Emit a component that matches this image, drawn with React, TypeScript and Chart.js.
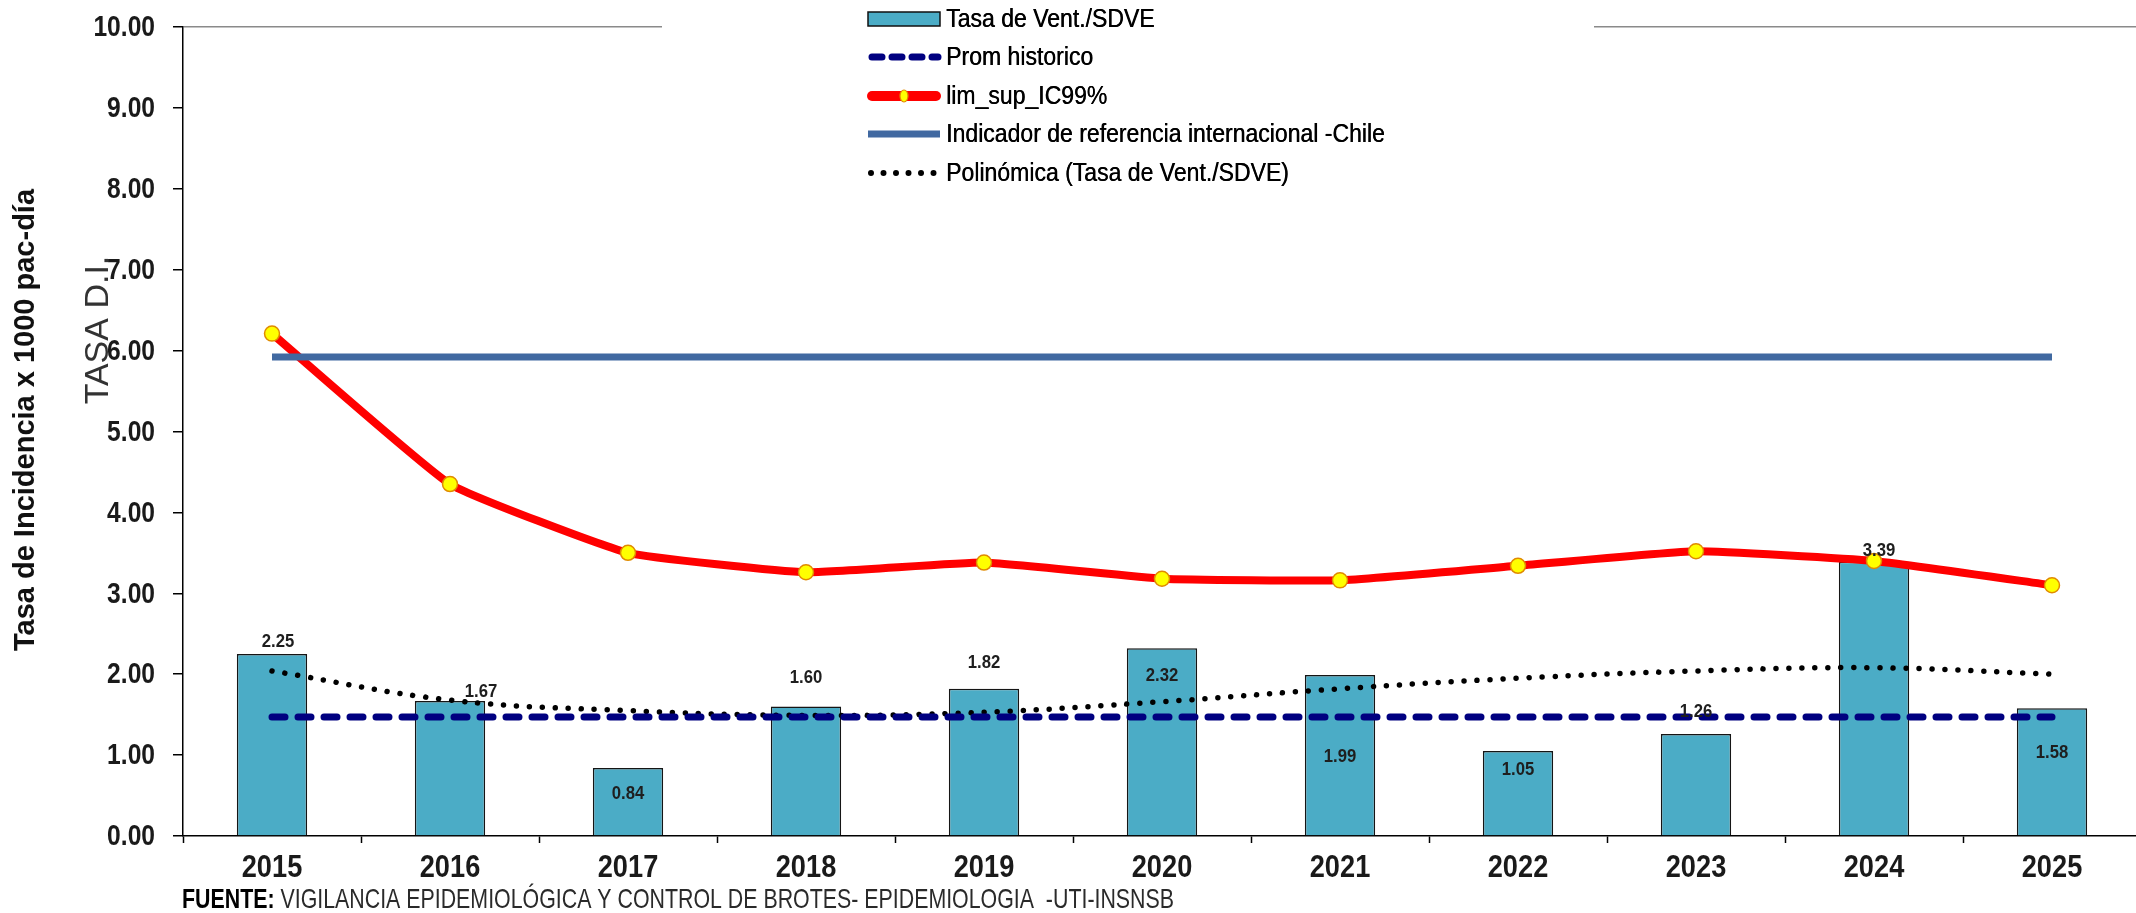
import { useEffect, useRef } from "react";
import { Chart, registerables } from "chart.js";

Chart.register(...registerables);

// ---------- data ----------
const YEARS = ["2015", "2016", "2017", "2018", "2019", "2020", "2021", "2022", "2023", "2024", "2025"];
const TASA_VENT = [2.25, 1.67, 0.84, 1.6, 1.82, 2.32, 1.99, 1.05, 1.26, 3.39, 1.58];
const PROM_HISTORICO = [1.47, 1.47, 1.47, 1.47, 1.47, 1.47, 1.47, 1.47, 1.47, 1.47, 1.47];
const LIM_SUP_IC99 = [6.21, 4.35, 3.5, 3.26, 3.38, 3.18, 3.16, 3.34, 3.52, 3.4, 3.1];
const REF_CHILE = [5.92, 5.92, 5.92, 5.92, 5.92, 5.92, 5.92, 5.92, 5.92, 5.92, 5.92];
const POLINOMICA = [2.04, 1.68, 1.55, 1.49, 1.53, 1.66, 1.82, 1.95, 2.04, 2.08, 2.0];
const Y_MIN = 0;
const Y_MAX = 10;
const Y_STEP = 1;

const SERIES_LABELS = [
  "Tasa de Vent./SDVE",
  "Prom historico",
  "lim_sup_IC99%",
  "Indicador de referencia internacional -Chile",
  "Polinómica (Tasa de Vent./SDVE)",
];
const Y_TITLE = "Tasa de Incidencia x 1000 pac-día";
const Y_SUBTITLE = "TASA D.I.";
const FOOTER_BOLD = "FUENTE:";
const FOOTER_TEXT = " VIGILANCIA EPIDEMIOLÓGICA Y CONTROL DE BROTES- EPIDEMIOLOGIA  -UTI-INSNSB";

// label placement (pixel offsets from bar top), style only
const BAR_LABEL_OFFSETS: [number, number][] = [
  [6, -12], [31, -9], [0, 26], [0, -29], [0, -26], [0, 27], [0, 82], [0, 19], [0, -22], [5, -11], [0, 45],
];

const FONT = "'Liberation Sans', Arial, sans-serif";

const BAR_FILL = "#4BACC6";
const NAVY = "#000080";
const RED = "#FF0000";
const BLUE = "#4169A1";

// draw condensed text (emulating a narrow font)
function narrowText(ctx: any, text: string, x: number, y: number, align: string, sx: number) {
  ctx.save();
  ctx.translate(x, y);
  ctx.scale(sx, 1);
  ctx.textAlign = align;
  ctx.fillText(text, 0, 0);
  ctx.restore();
}

const overlayPlugin = {
  id: "overlay",
  afterDatasetsDraw(chart: any) {
    const ctx = chart.ctx;
    const meta = chart.getDatasetMeta(0);
    ctx.save();
    ctx.font = `bold 19px ${FONT}`;
    ctx.fillStyle = "#1e1e1e";
    ctx.textBaseline = "middle";
    meta.data.forEach((el: any, i: number) => {
      const [dx, dy] = BAR_LABEL_OFFSETS[i] || [0, -12];
      narrowText(ctx, TASA_VENT[i].toFixed(2), el.x + dx, el.y + dy, "center", 0.88);
    });
    ctx.restore();
  },
  afterDraw(chart: any) {
    const ctx = chart.ctx;
    ctx.save();

    // axis tick labels (positions from the library's scales)
    const ys = chart.scales.y;
    ctx.font = `bold 30px ${FONT}`;
    ctx.fillStyle = "#1a1a1a";
    ctx.textBaseline = "middle";
    ys.ticks.forEach((t: any) => {
      narrowText(ctx, Number(t.value).toFixed(2), ys.left + ys.width - 28, ys.getPixelForValue(t.value) + 1, "right", 0.82);
    });
    const xs = chart.scales.x;
    ctx.font = `bold 32px ${FONT}`;
    chart.data.labels.forEach((lab: string, i: number) => {
      narrowText(ctx, lab, xs.getPixelForValue(i), xs.top + 32, "center", 0.85);
    });

    // legend box
    ctx.fillStyle = "#ffffff";
    ctx.fillRect(662, 10, 932, 190);
    const rows = [19, 57, 96, 134, 173];
    const x0 = 868;
    const x1 = 940;
    // 1 bar
    ctx.fillStyle = BAR_FILL;
    ctx.fillRect(x0, rows[0] - 7, x1 - x0, 14);
    ctx.strokeStyle = "#111";
    ctx.lineWidth = 1.5;
    ctx.strokeRect(x0, rows[0] - 7, x1 - x0, 14);
    // 2 dashed navy
    ctx.beginPath();
    ctx.strokeStyle = NAVY;
    ctx.lineWidth = 7;
    ctx.lineCap = "round";
    ctx.setLineDash([10, 10]);
    ctx.moveTo(x0 + 4, rows[1]);
    ctx.lineTo(x1 - 2, rows[1]);
    ctx.stroke();
    // 3 red with marker
    ctx.setLineDash([]);
    ctx.beginPath();
    ctx.strokeStyle = RED;
    ctx.lineWidth = 10;
    ctx.lineCap = "round";
    ctx.moveTo(x0 + 4, rows[2]);
    ctx.lineTo(x1 - 4, rows[2]);
    ctx.stroke();
    ctx.beginPath();
    ctx.fillStyle = "#FFFF00";
    ctx.strokeStyle = "#E08A00";
    ctx.lineWidth = 1.2;
    ctx.ellipse((x0 + x1) / 2, rows[2], 4, 6, 0, 0, Math.PI * 2);
    ctx.fill();
    ctx.stroke();
    // 4 blue
    ctx.beginPath();
    ctx.strokeStyle = BLUE;
    ctx.lineWidth = 7;
    ctx.lineCap = "butt";
    ctx.moveTo(x0, rows[3]);
    ctx.lineTo(x1, rows[3]);
    ctx.stroke();
    // 5 dotted
    ctx.beginPath();
    ctx.strokeStyle = "#000";
    ctx.lineWidth = 6;
    ctx.lineCap = "round";
    ctx.setLineDash([0.001, 12.5]);
    ctx.moveTo(x0 + 3, rows[4]);
    ctx.lineTo(x1, rows[4]);
    ctx.stroke();
    ctx.setLineDash([]);
    // legend texts
    ctx.font = `26px ${FONT}`;
    ctx.fillStyle = "#000";
    ctx.textBaseline = "middle";
    chart.data.datasets.forEach((ds: any, i: number) => {
      narrowText(ctx, ds.label, 946, rows[i] + 1, "left", 0.885);
      narrowText(ctx, ds.label, 946.4, rows[i] + 1, "left", 0.885);
    });

    // y axis title
    ctx.save();
    ctx.translate(26, 420);
    ctx.rotate(-Math.PI / 2);
    ctx.font = `bold 29px ${FONT}`;
    ctx.fillStyle = "#111";
    ctx.textAlign = "center";
    ctx.textBaseline = "middle";
    ctx.fillText(Y_TITLE, 0, 0);
    ctx.restore();

    // secondary title
    ctx.save();
    ctx.translate(99, 330);
    ctx.rotate(-Math.PI / 2);
    ctx.font = `34px ${FONT}`;
    ctx.fillStyle = "#333";
    ctx.textAlign = "center";
    ctx.textBaseline = "middle";
    ctx.fillText(Y_SUBTITLE, 0, 0);
    ctx.restore();

    // footer
    ctx.save();
    const targetW = 992;
    ctx.font = `bold 28px ${FONT}`;
    const wb = ctx.measureText(FOOTER_BOLD).width;
    ctx.font = `28px ${FONT}`;
    const wt = ctx.measureText(FOOTER_TEXT).width;
    const sx = targetW / (wb + wt);
    ctx.translate(182, 900);
    ctx.scale(sx, 1);
    ctx.textAlign = "left";
    ctx.textBaseline = "middle";
    ctx.font = `bold 28px ${FONT}`;
    ctx.fillStyle = "#000";
    ctx.fillText(FOOTER_BOLD, 0, 0);
    ctx.font = `28px ${FONT}`;
    ctx.fillStyle = "#2a2a2a";
    ctx.fillText(FOOTER_TEXT, wb, 0);
    ctx.restore();

    ctx.restore();
  },
};

export default function App() {
  const ref = useRef<HTMLCanvasElement | null>(null);

  useEffect(() => {
    if (!ref.current) return;
    const chart = new Chart(ref.current, {
      type: "bar",
      data: {
        labels: YEARS,
        datasets: [
          {
            type: "bar",
            label: SERIES_LABELS[0],
            data: TASA_VENT,
            backgroundColor: BAR_FILL,
            borderColor: "#151515",
            borderWidth: 1.5,
            barPercentage: 0.395,
            categoryPercentage: 1,
            order: 5,
          } as any,
          {
            type: "line",
            label: SERIES_LABELS[1],
            data: PROM_HISTORICO,
            borderColor: NAVY,
            borderWidth: 7,
            borderDash: [13, 13],
            borderCapStyle: "round",
            pointRadius: 0,
            order: 3,
          },
          {
            type: "line",
            label: SERIES_LABELS[2],
            data: LIM_SUP_IC99,
            borderColor: RED,
            borderWidth: 8,
            borderJoinStyle: "round",
            borderCapStyle: "round",
            tension: 0.12,
            pointRadius: 7.5,
            pointBackgroundColor: "#FFFF00",
            pointBorderColor: "#E08A00",
            pointBorderWidth: 1.5,
            order: 2,
          },
          {
            type: "line",
            label: SERIES_LABELS[3],
            data: REF_CHILE,
            borderColor: BLUE,
            borderWidth: 7,
            pointRadius: 0,
            order: 1,
          },
          {
            type: "line",
            label: SERIES_LABELS[4],
            data: POLINOMICA,
            borderColor: "#000",
            borderWidth: 5.5,
            borderDash: [0.001, 13],
            borderCapStyle: "round",
            tension: 0.4,
            pointRadius: 0,
            order: 4,
          },
        ],
      },
      options: {
        animation: false,
        responsive: false,
        maintainAspectRatio: false,
        layout: { padding: { top: 27, right: 9, left: 0, bottom: 0 } },
        plugins: {
          legend: { display: false },
          tooltip: { enabled: false },
          title: { display: false },
        },
        scales: {
          x: {
            offset: true,
            grid: {
              offset: true,
              color: "rgba(0,0,0,0)",
              drawOnChartArea: false,
              tickColor: "#000",
              tickLength: 7,
              tickWidth: 1.5,
            },
            border: { color: "#000", width: 1.5 },
            ticks: { display: false },
            afterFit: (s: any) => {
              s.height = 77;
            },
          },
          y: {
            min: Y_MIN,
            max: Y_MAX,
            ticks: { stepSize: Y_STEP, display: false },
            grid: {
              color: (c: any) => (c.tick && c.tick.value === Y_MAX ? "#8a8a8a" : "rgba(0,0,0,0)"),
              lineWidth: 1.5,
              tickColor: "#000",
              tickLength: 10,
              tickWidth: 1.5,
            },
            border: { color: "#000", width: 1.5 },
            afterFit: (s: any) => {
              s.width = 183;
            },
          },
        },
      } as any,
      plugins: [overlayPlugin],
    });
    return () => chart.destroy();
  }, []);

  return (
    <div
      style={{
        position: "absolute",
        left: 0,
        top: 0,
        width: 2136,
        height: 913,
        overflow: "hidden",
        background: "#fff",
      }}
    >
      <canvas ref={ref} width={2150} height={913} style={{ display: "block" }} />
    </div>
  );
}
